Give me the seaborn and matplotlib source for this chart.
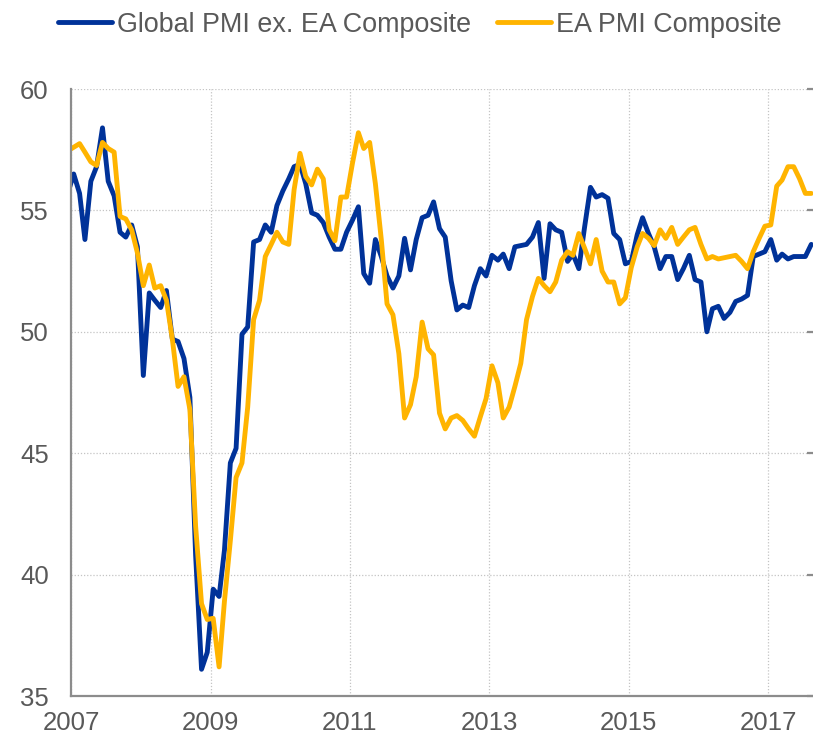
import matplotlib
matplotlib.use("Agg")
import matplotlib.pyplot as plt
import matplotlib.dates as mdates
import seaborn as sns
import pandas as pd

# monthly readings, Dec 2006 .. Aug 2017
start_month = "2006-12-01"

global_ex_ea = [
    55.7,
    56.5, 55.7, 53.8, 56.2, 56.8, 58.4, 56.2, 55.6, 54.1, 53.9, 54.4, 53.5,
    48.2, 51.6, 51.3, 51.0, 51.7, 49.7, 49.6, 48.9, 47.3, 40.8, 36.1, 36.8,
    39.4, 39.1, 41.0, 44.6, 45.2, 49.9, 50.2, 53.7, 53.8, 54.4, 54.1, 55.2,
    55.8, 56.3, 56.8, 56.9, 56.1, 54.9, 54.8, 54.5, 53.9, 53.4, 53.4, 54.1,
    54.6, 55.15, 52.4, 52.0, 53.8, 53.1, 52.3, 51.8, 52.3, 53.85, 52.55, 53.8,
    54.7, 54.8, 55.35, 54.25, 53.9, 52.1, 50.9, 51.1, 51.0, 51.9, 52.6, 52.3,
    53.15, 52.95, 53.2, 52.6, 53.5, 53.55, 53.6, 53.9, 54.5, 52.2, 54.45, 54.2,
    54.1, 52.9, 53.2, 52.6, 54.3, 55.95, 55.55, 55.65, 55.5, 54.05, 53.8, 52.8,
    52.9, 54.0, 54.7, 54.05, 53.5, 52.6, 53.1, 53.1, 52.15, 52.6, 53.15, 52.15,
    52.05, 50.0, 50.95, 51.05, 50.55, 50.8, 51.25, 51.35, 51.5, 53.1, 53.2, 53.3,
    53.8, 52.95, 53.2, 53.0, 53.1, 53.1, 53.1, 53.6,
]

ea_composite = [
    57.45,
    57.6, 57.75, 57.4, 57.0, 56.85, 57.8, 57.55, 57.4, 54.75, 54.65, 54.2, 53.25,
    51.9, 52.75, 51.8, 51.9, 51.3, 49.7, 47.75, 48.15, 46.8, 42.0, 38.8, 38.15,
    38.2, 36.2, 38.9, 41.4, 44.0, 44.6, 46.9, 50.5, 51.3, 53.1, 53.6, 54.1,
    53.7, 53.6, 55.85, 57.35, 56.4, 56.05, 56.7, 56.3, 54.2, 53.75, 55.55, 55.55,
    56.95, 58.2, 57.55, 57.8, 56.1, 53.8, 51.15, 50.7, 49.1, 46.45, 47.0, 48.15,
    50.4, 49.3, 49.05, 46.65, 46.0, 46.45, 46.55, 46.35, 46.0, 45.7, 46.5, 47.25,
    48.6, 47.9, 46.45, 46.9, 47.75, 48.7, 50.5, 51.45, 52.2, 51.9, 51.65, 52.05,
    52.95, 53.3, 53.15, 54.05, 53.45, 52.8, 53.8, 52.5, 52.05, 52.05, 51.15, 51.4,
    52.65, 53.5, 54.05, 53.85, 53.55, 54.2, 53.85, 54.3, 53.6, 53.9, 54.2, 54.3,
    53.6, 53.0, 53.1, 53.0, 53.05, 53.1, 53.15, 52.9, 52.6, 53.3, 53.85, 54.35,
    54.4, 56.0, 56.25, 56.8, 56.8, 56.3, 55.7, 55.7,
]

series_names = ["Global PMI ex. EA Composite", "EA PMI Composite"]
series_colors = ["#003299", "#FFB400"]
year_ticks = ["2007", "2009", "2011", "2013", "2015", "2017"]
y_ticks = [35, 40, 45, 50, 55, 60]

dates = pd.date_range(start_month, periods=len(global_ex_ea), freq="MS") + pd.Timedelta(days=14)
df = pd.DataFrame({"date": dates,
                   series_names[0]: global_ex_ea,
                   series_names[1]: ea_composite})
long_df = df.melt(id_vars="date", var_name="series", value_name="value")

sns.set_style("white")
plt.rcParams["font.family"] = ["Liberation Sans", "DejaVu Sans"]
text_grey = "#595959"
axis_grey = "#8c8c8c"

fig = plt.figure(figsize=(8.13, 7.44), dpi=100)
ax = fig.add_axes([71 / 813, 1 - 696 / 744, (814.5 - 71) / 813, (696 - 89) / 744])

sns.lineplot(data=long_df, x="date", y="value", hue="series",
             hue_order=series_names, palette=series_colors,
             linewidth=3.5, ax=ax, legend=True)

ax.set_xlim(pd.Timestamp("2007-01-01"), pd.Timestamp("2017-09-01"))
ax.set_ylim(35, 60)
ax.set_xticks([pd.Timestamp(y + "-01-01") for y in year_ticks])
ax.xaxis.set_major_formatter(mdates.DateFormatter("%Y"))
ax.set_yticks(y_ticks)
ax.set_xlabel("")
ax.set_ylabel("")

ax.grid(True, linestyle=(0, (1, 1.5)), color="#c4c4c4", linewidth=0.9)
ax.set_axisbelow(True)

ax.spines["top"].set_visible(False)
for side in ["left", "bottom", "right"]:
    ax.spines[side].set_color(axis_grey)
    ax.spines[side].set_linewidth(1.6)

ax.tick_params(axis="x", direction="out", length=6, width=1.6, color=axis_grey,
               labelsize=18.5, labelcolor=text_grey, pad=5)
ax.tick_params(axis="y", direction="in", length=5.5, width=1.6, color=axis_grey,
               labelsize=18.5, labelcolor=text_grey, pad=16, right=True)

handles, labels = ax.get_legend_handles_labels()
ax.get_legend().remove()
fig.legend(handles, labels, loc="center", bbox_to_anchor=(0.5166, 0.967),
           ncol=2, frameon=False, fontsize=19.4, labelcolor=text_grey,
           handlelength=2.0, handletextpad=0.2, columnspacing=0.95)

fig.savefig("out.png", dpi=100)
